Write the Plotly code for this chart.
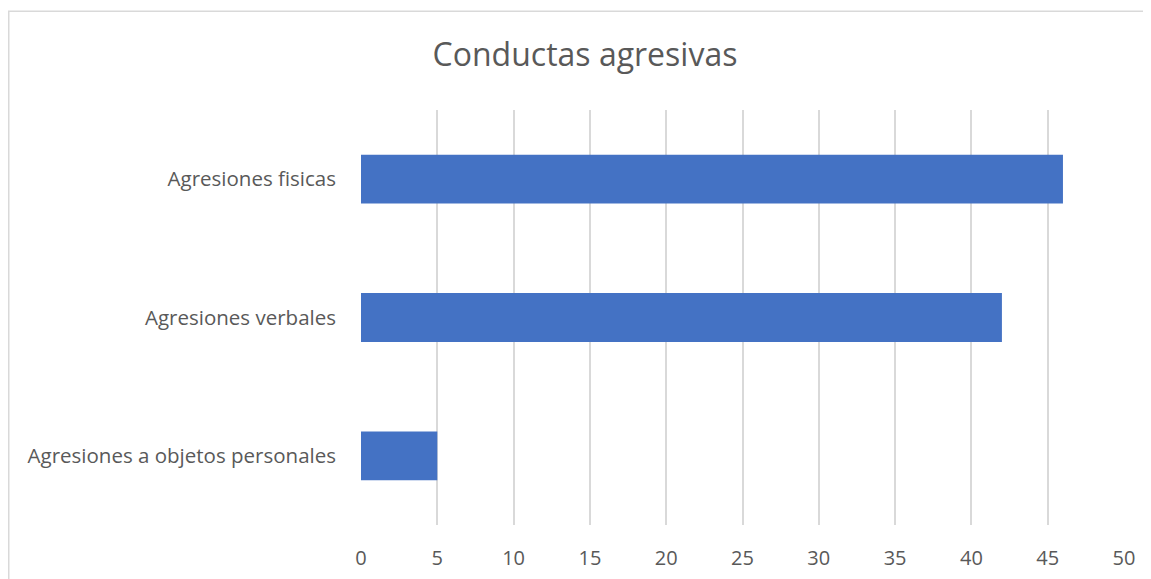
import plotly.graph_objects as go

categories = ["Agresiones a objetos personales", "Agresiones verbales", "Agresiones fisicas"]
values = [5, 42, 46]
tick_vals = [0, 5, 10, 15, 20, 25, 30, 35, 40, 45, 50]

# page is rendered with an 8px body margin, so figure coords = page coords - 8
OFF = 8
W, H = 1151 - OFF, 579 - OFF
L, T = 361 - OFF, 109.5 - OFF
R = W - (1124 - OFF)
B = H - (525.5 - OFF)
pw = W - L - R
ph = H - T - B

fig = go.Figure(go.Bar(
    y=categories, x=values, orientation="h",
    marker=dict(color="#4472C4", line=dict(width=0)),
))

fig.update_layout(
    width=W, height=H,
    margin=dict(l=L, r=R, t=T, b=B, pad=0, autoexpand=False),
    paper_bgcolor="white", plot_bgcolor="white",
    bargap=0.647,
    showlegend=False,
    title=dict(text="Conductas agresivas", x=(585 - OFF) / W, xanchor="center",
               y=1 - (55 - OFF) / H, yanchor="middle", automargin=False,
               font=dict(family="Open Sans", size=32, color="#595959")),
    font=dict(family="Open Sans", color="#595959", size=20),
    xaxis=dict(range=[0, 50], tickvals=tick_vals, showgrid=True, gridcolor="#D9D9D9",
               gridwidth=1.5, zeroline=False, showline=False, ticks="",
               automargin=False,
               ticklabelstandoff=19, tickfont=dict(size=20, color="#595959")),
    yaxis=dict(showgrid=False, zeroline=False, showline=False, ticks="",
               automargin=False,
               ticklabelstandoff=24, tickfont=dict(size=20.5, color="#595959")),
    shapes=[dict(type="rect", xref="paper", yref="paper",
                 x0=(0.75 - L) / pw, x1=(W + 20 - L) / pw,
                 y0=-(H + 20 - (T + ph)) / ph, y1=1 + (T - 2.5) / ph,
                 line=dict(color="#D9D9D9", width=1.5), layer="below")],
)

fig.write_html("out.html")
